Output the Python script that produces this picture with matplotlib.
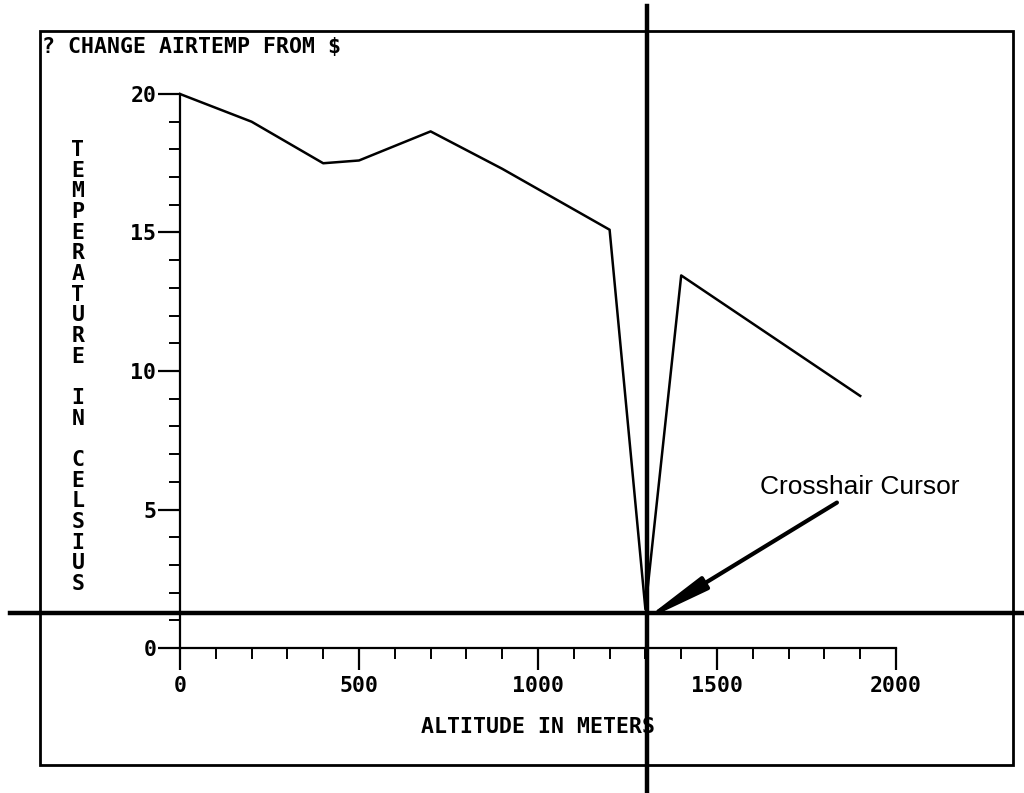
import matplotlib.pyplot as plt
import matplotlib.patches as patches
import numpy as np

# readings
altitude = [0, 200, 400, 500, 700, 900, 1200, 1300, 1400, 1900]
temperature = [20.0, 19.0, 17.5, 17.6, 18.65, 17.3, 15.1, 1.4, 13.45, 9.1]

x_major = [0, 500, 1000, 1500, 2000]
x_minor = np.arange(0, 2001, 100)
y_major = [0, 5, 10, 15, 20]
y_minor = np.arange(0, 21, 1)

cursor_alt = 1305
cursor_temp = 1.25

title = "? CHANGE AIRTEMP FROM $"
xlabel = "ALTITUDE IN METERS"
ylabel = "TEMPERATURE IN CELSIUS"
callout = "Crosshair Cursor"

W, H = 1024, 793
mono = "DejaVu Sans Mono"
fs = 15.5

fig = plt.figure(figsize=(W / 100, H / 100), dpi=100)
ax = fig.add_axes([180 / W, (H - 648) / H, 716 / W, 554 / H])

ax.plot(altitude, temperature, color='k', lw=1.8, clip_on=False)

ax.set_xlim(0, 2000)
ax.set_ylim(0, 20)
for s in ['top', 'right']:
    ax.spines[s].set_visible(False)
for s in ['left', 'bottom']:
    ax.spines[s].set_linewidth(1.6)

ax.set_xticks(x_major)
ax.set_xticks(x_minor, minor=True)
ax.set_yticks(y_major)
ax.set_yticks(y_minor, minor=True)
ax.set_xticklabels([str(v) for v in x_major], family=mono, fontsize=fs, weight='bold')
ax.set_yticklabels([str(v) for v in y_major], family=mono, fontsize=fs, weight='bold')
ax.tick_params(which='major', direction='out', length=16, width=1.6, color='k')
ax.tick_params(which='minor', direction='out', length=8, width=1.4, color='k')
ax.tick_params(axis='x', which='major', pad=4)
ax.tick_params(axis='y', which='major', pad=1)

# x label
ax.text(1000, -0.143, xlabel, transform=ax.get_xaxis_transform(),
        family=mono, fontsize=fs, weight='bold', ha='center', va='center')

# y label, letters stacked
ys = np.linspace(0.899, 0.1155, len(ylabel))
for ch, yy in zip(ylabel, ys):
    ax.text(-0.1425, yy, ch, transform=ax.transAxes, family=mono,
            fontsize=fs, weight='bold', ha='center', va='center')

# prompt line
fig.text(42 / W, 1 - 47 / H, title, family=mono, fontsize=fs, weight='bold',
         ha='left', va='center')

# screen frame
frame = patches.Rectangle((40 / W, 1 - 765 / H), (1013 - 40) / W, (765 - 31) / H,
                          transform=fig.transFigure, fill=False, lw=2, ec='k')
fig.add_artist(frame)

# crosshair
ax.axvline(cursor_alt, ymin=-0.262, ymax=1.159, color='k', lw=3.2, clip_on=False)
ax.axhline(cursor_temp, xmin=-0.237, xmax=1.2, color='k', lw=3.2, clip_on=False)

# callout
ax.text(1620, 5.8, callout, family='Liberation Sans', fontsize=19, ha='left', va='center')
ax.annotate('', xy=(1290, 0.95), xytext=(1835, 5.25),
            arrowprops=dict(arrowstyle='-|>,head_length=2.8,head_width=0.3',
                            lw=3, color='k', mutation_scale=14, shrinkA=0, shrinkB=0),
            annotation_clip=False)

fig.savefig('out.png', dpi=100)
